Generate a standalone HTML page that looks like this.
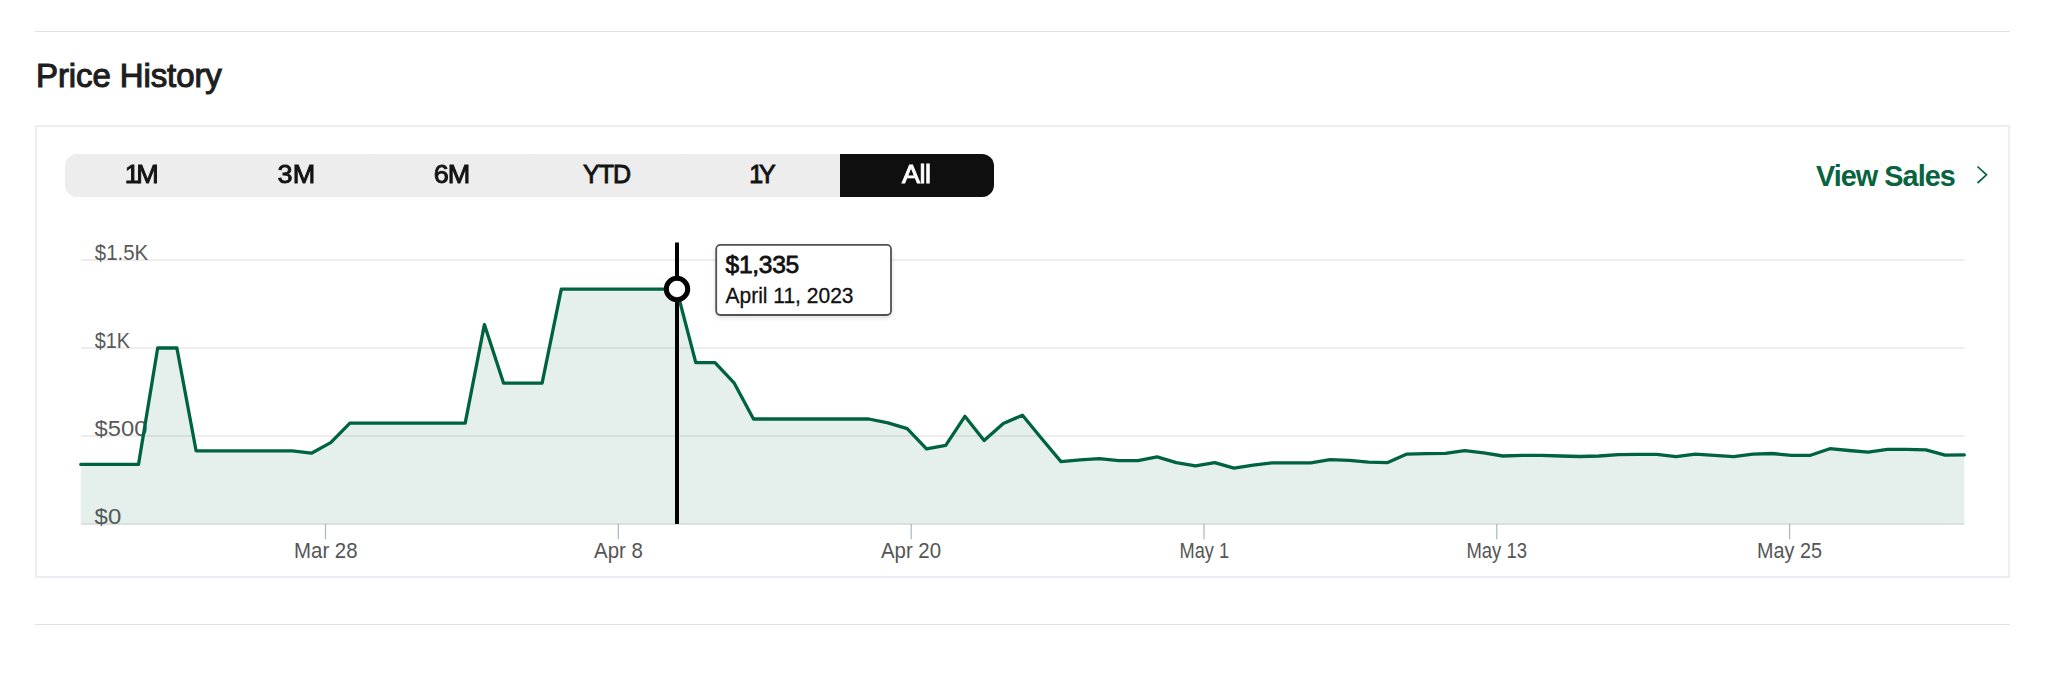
<!DOCTYPE html>
<html lang="en">
<head>
<meta charset="utf-8">
<title>Price History</title>
<style>
html,body{margin:0;padding:0;background:#fff;}
body{width:2048px;height:698px;position:relative;overflow:hidden;font-family:"Liberation Sans",sans-serif;color:#1c1c1c;}
.rule{position:absolute;left:35px;width:1975px;height:1px;background:#e2e2e2;}
h2{position:absolute;left:36px;top:56.7px;margin:0;font-size:33px;line-height:38px;font-weight:400;letter-spacing:-0.1px;color:#1e1e1e;-webkit-text-stroke:1.1px #1e1e1e;}
.card{position:absolute;left:35px;top:125px;width:1971px;height:449px;border:2px solid #ebedf3;box-sizing:content-box;}
.tabs{position:absolute;left:64.5px;top:154px;height:42.5px;width:929.6px;background:#ededed;border-radius:12px;display:flex;overflow:hidden;}
.tabs div{flex:1 1 0;height:42.5px;line-height:41px;text-align:center;font-size:25px;font-weight:400;color:#141414;-webkit-text-stroke:0.9px currentColor;box-sizing:border-box;}
.tabs span{display:inline-block;letter-spacing:0px;transform:scaleX(1.08);transform-origin:50% 50%;}
.tabs div:nth-child(3),.tabs div:nth-child(4),.tabs div:nth-child(5){border-left:1px solid #ebebeb;}
#t1{letter-spacing:-3.3px;margin-right:3.3px;}
#t3{letter-spacing:-0.8px;margin-right:0.8px;}
#t4{letter-spacing:-0.95px;margin-right:0.95px;transform:none;}
#t5{letter-spacing:-4.2px;margin-right:4.2px;transform:none;}
#t6{letter-spacing:-0.4px;margin-right:0.4px;}
.tabs div.on{background:#0f0f0f;color:#fff;}
svg{position:absolute;left:0;top:0;}
svg text{font-family:"Liberation Sans",sans-serif;}
</style>
</head>
<body>
<div class="rule" style="top:31px"></div>
<h2>Price History</h2>
<div class="card"></div>
<div class="tabs"><div><span id="t1">1M</span></div><div><span id="t2">3M</span></div><div><span id="t3">6M</span></div><div><span id="t4">YTD</span></div><div><span id="t5">1Y</span></div><div class="on"><span id="t6">All</span></div></div>
<svg width="2048" height="698" viewBox="0 0 2048 698">
<text x="1816" y="185.6" font-size="28.8" font-weight="700" fill="#08633f" letter-spacing="-0.95">View Sales</text>
<path d="M1977.5 166.5 L1986.5 174.8 L1977.5 183" fill="none" stroke="#08633f" stroke-width="1.7"/>
<g stroke="#e8e8e8" stroke-width="1.7">
<line x1="81" x2="1964.5" y1="260" y2="260"/>
<line x1="81" x2="1964.5" y1="348" y2="348"/>
<line x1="81" x2="1964.5" y1="436" y2="436"/>
<line x1="81" x2="1964.5" y1="524" y2="524"/>
</g>
<g font-size="22" fill="#595959">
<text transform="translate(94.8,259.8) scale(0.93,1)">$1.5K</text>
<text transform="translate(94.8,347.8) scale(0.90,1)">$1K</text>
<text transform="translate(94.6,435.8) scale(1.08,1)">$500</text>
<text transform="translate(94.6,523.8) scale(1.09,1)">$0</text>
</g>
<path d="M80.8 464.4 L100.0 464.4 L119.2 464.4 L138.5 464.4 L157.7 348.0 L176.9 348.0 L196.1 450.8 L215.3 450.8 L234.6 450.8 L253.8 450.8 L273.0 450.8 L292.2 450.8 L311.4 453.2 L330.7 442.6 L349.9 423.1 L369.1 423.1 L388.3 423.1 L407.5 423.1 L426.7 423.1 L446.0 423.1 L465.2 423.1 L484.4 324.6 L503.6 383.2 L522.8 383.2 L542.1 383.2 L561.3 289.2 L580.5 289.2 L599.7 289.2 L618.9 289.2 L638.2 289.2 L657.4 289.2 L676.6 289.2 L695.8 362.6 L715.0 362.6 L734.3 383.2 L753.5 419.0 L772.7 419.0 L791.9 419.0 L811.1 419.0 L830.4 419.0 L849.6 419.0 L868.8 419.0 L888.0 422.9 L907.2 428.6 L926.5 448.9 L945.7 445.3 L964.9 416.3 L984.1 440.6 L1003.3 423.4 L1022.5 415.2 L1041.8 438.7 L1061.0 461.6 L1080.2 459.8 L1099.4 458.6 L1118.6 460.7 L1137.9 460.7 L1157.1 456.8 L1176.3 462.6 L1195.5 465.8 L1214.7 462.6 L1234.0 468.2 L1253.2 465.1 L1272.4 462.9 L1291.6 462.9 L1310.8 462.9 L1330.1 459.6 L1349.3 460.4 L1368.5 462.2 L1387.7 462.6 L1406.9 454.1 L1426.2 453.6 L1445.4 453.4 L1464.6 450.6 L1483.8 452.9 L1503.0 456.0 L1522.3 455.3 L1541.5 455.3 L1560.7 456.0 L1579.9 456.5 L1599.1 456.0 L1618.4 454.6 L1637.6 454.4 L1656.8 454.4 L1676.0 456.7 L1695.2 454.2 L1714.4 455.3 L1733.7 456.7 L1752.9 454.2 L1772.1 453.5 L1791.3 455.3 L1810.5 455.3 L1829.8 448.7 L1849.0 450.5 L1868.2 452.1 L1887.4 449.3 L1906.6 449.3 L1925.9 449.8 L1945.1 455.1 L1964.3 454.9 L1964.3 524.8 L80.8 524.8 Z" fill="#006340" fill-opacity="0.1"/>
<path d="M80.8 464.4 L100.0 464.4 L119.2 464.4 L138.5 464.4 L157.7 348.0 L176.9 348.0 L196.1 450.8 L215.3 450.8 L234.6 450.8 L253.8 450.8 L273.0 450.8 L292.2 450.8 L311.4 453.2 L330.7 442.6 L349.9 423.1 L369.1 423.1 L388.3 423.1 L407.5 423.1 L426.7 423.1 L446.0 423.1 L465.2 423.1 L484.4 324.6 L503.6 383.2 L522.8 383.2 L542.1 383.2 L561.3 289.2 L580.5 289.2 L599.7 289.2 L618.9 289.2 L638.2 289.2 L657.4 289.2 L676.6 289.2 L695.8 362.6 L715.0 362.6 L734.3 383.2 L753.5 419.0 L772.7 419.0 L791.9 419.0 L811.1 419.0 L830.4 419.0 L849.6 419.0 L868.8 419.0 L888.0 422.9 L907.2 428.6 L926.5 448.9 L945.7 445.3 L964.9 416.3 L984.1 440.6 L1003.3 423.4 L1022.5 415.2 L1041.8 438.7 L1061.0 461.6 L1080.2 459.8 L1099.4 458.6 L1118.6 460.7 L1137.9 460.7 L1157.1 456.8 L1176.3 462.6 L1195.5 465.8 L1214.7 462.6 L1234.0 468.2 L1253.2 465.1 L1272.4 462.9 L1291.6 462.9 L1310.8 462.9 L1330.1 459.6 L1349.3 460.4 L1368.5 462.2 L1387.7 462.6 L1406.9 454.1 L1426.2 453.6 L1445.4 453.4 L1464.6 450.6 L1483.8 452.9 L1503.0 456.0 L1522.3 455.3 L1541.5 455.3 L1560.7 456.0 L1579.9 456.5 L1599.1 456.0 L1618.4 454.6 L1637.6 454.4 L1656.8 454.4 L1676.0 456.7 L1695.2 454.2 L1714.4 455.3 L1733.7 456.7 L1752.9 454.2 L1772.1 453.5 L1791.3 455.3 L1810.5 455.3 L1829.8 448.7 L1849.0 450.5 L1868.2 452.1 L1887.4 449.3 L1906.6 449.3 L1925.9 449.8 L1945.1 455.1 L1964.3 454.9" fill="none" stroke="#006340" stroke-width="3.3" stroke-linejoin="round" stroke-linecap="round"/>
<g stroke="#a9b4c6" stroke-width="1.2">
<line x1="325.5" x2="325.5" y1="524" y2="539.2"/>
<line x1="618.3" x2="618.3" y1="524" y2="539.2"/>
<line x1="911.2" x2="911.2" y1="524" y2="539.2"/>
<line x1="1204.0" x2="1204.0" y1="524" y2="539.2"/>
<line x1="1496.8" x2="1496.8" y1="524" y2="539.2"/>
<line x1="1789.6" x2="1789.6" y1="524" y2="539.2"/>
</g>
<g font-size="21.4" fill="#555" text-anchor="middle">
<text transform="translate(325.8,557.85) scale(0.955,1)">Mar 28</text>
<text transform="translate(618.5,557.85) scale(0.955,1)">Apr 8</text>
<text transform="translate(911.0,557.85) scale(0.955,1)">Apr 20</text>
<text transform="translate(1204.3,557.85) scale(0.85,1)">May 1</text>
<text transform="translate(1496.7,557.85) scale(0.863,1)">May 13</text>
<text transform="translate(1789.5,557.85) scale(0.925,1)">May 25</text>
</g>
<line x1="677" x2="677" y1="242.5" y2="524" stroke="#000" stroke-width="4"/>
<circle cx="677" cy="289" r="10.7" fill="#fff" stroke="#000" stroke-width="5"/>
<rect x="716.2" y="244.9" width="174.8" height="70.1" rx="4.2" ry="4.2" fill="#fff" stroke="#525252" stroke-width="1.8" style="filter:drop-shadow(0 2px 2.2px rgba(0,0,0,0.13))"/>
<text x="725.5" y="273" font-size="24.6" fill="#111" stroke="#111" stroke-width="0.78" letter-spacing="-0.3">$1,335</text>
<text transform="translate(725.5,303.3) scale(0.968,1)" font-size="21.7" fill="#111" stroke="#111" stroke-width="0.3">April 11, 2023</text>
</svg>
<div class="rule" style="top:624px;"></div>
</body>
</html>
